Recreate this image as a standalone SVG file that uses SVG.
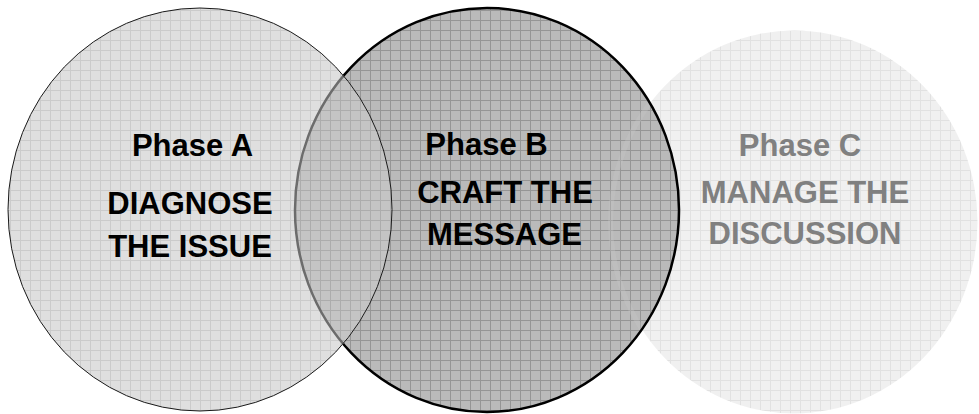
<svg xmlns="http://www.w3.org/2000/svg" width="979" height="414" viewBox="0 0 979 414">
<style>
  .t { font-family: "Liberation Sans", Arial, sans-serif; font-weight: bold; font-size: 31px; text-anchor: middle; }
  .dark { fill: #000000; }
  .light { fill: #808080; }
</style>
<defs>
  <pattern id="gA" width="10" height="10" patternUnits="userSpaceOnUse">
    <rect width="10" height="10" fill="#dfdfdf"/>
    <path d="M0 0.5H10M0.5 0V10" stroke="#cbcbcb" stroke-width="1" fill="none"/>
  </pattern>
  <pattern id="gB" width="10" height="10" patternUnits="userSpaceOnUse">
    <rect width="10" height="10" fill="#bababa"/>
    <path d="M0 0.5H10M0.5 0V10" stroke="#959595" stroke-width="1" fill="none"/>
  </pattern>
  <pattern id="gAB" width="10" height="10" patternUnits="userSpaceOnUse">
    <rect width="10" height="10" fill="#c4c4c4"/>
    <path d="M0 0.5H10M0.5 0V10" stroke="#acacac" stroke-width="1" fill="none"/>
  </pattern>
  <pattern id="gC" width="10" height="10" patternUnits="userSpaceOnUse">
    <rect width="10" height="10" fill="#f0f0f0"/>
    <path d="M0 0.5H10M0.5 0V10" stroke="#e1e1e1" stroke-width="1" fill="none"/>
  </pattern>
  <clipPath id="clipA"><ellipse cx="200" cy="209.5" rx="192" ry="201.5"/></clipPath>
  <clipPath id="clipB"><ellipse cx="487" cy="210" rx="192" ry="202"/></clipPath>
</defs>
<rect width="979" height="414" fill="#ffffff"/>

<g id="circleC">
  <ellipse cx="794" cy="222" rx="183.5" ry="191.5" fill="url(#gC)"/>
</g>

<g id="circleB">
  <ellipse cx="487" cy="210" rx="192" ry="202" fill="url(#gB)"/>
  <g clip-path="url(#clipB)">
    <ellipse cx="794" cy="222" rx="183.5" ry="191.5" fill="none" stroke="#c6c6c6" stroke-opacity="0.35" stroke-width="5"/>
  </g>
  <ellipse cx="487" cy="210" rx="192" ry="202" fill="none" stroke="#000000" stroke-width="2.5"/>
</g>

<g id="circleA">
  <ellipse cx="200" cy="209.5" rx="192" ry="201.5" fill="url(#gA)"/>
  <g clip-path="url(#clipA)">
    <ellipse cx="487" cy="210" rx="192" ry="202" fill="url(#gAB)"/>
    <ellipse cx="487" cy="210" rx="192" ry="202" fill="none" stroke="#6c6c6c" stroke-width="2.5"/>
  </g>
  <ellipse cx="200" cy="209.5" rx="192" ry="201.5" fill="none" stroke="#1a1a1a" stroke-width="1"/>
</g>

<g id="labelA">
  <text class="t dark" x="192.5" y="156">Phase A</text>
  <text class="t dark" x="190" y="214">DIAGNOSE</text>
  <text class="t dark" x="190" y="256.5">THE ISSUE</text>
</g>
<g id="labelB">
  <text class="t dark" x="486.5" y="155">Phase B</text>
  <text class="t dark" x="505" y="203">CRAFT THE</text>
  <text class="t dark" x="504.5" y="245">MESSAGE</text>
</g>
<g id="labelC">
  <text class="t light" x="800" y="156">Phase C</text>
  <text class="t light" x="805" y="203">MANAGE THE</text>
  <text class="t light" x="805" y="244">DISCUSSION</text>
</g>
<g id="connectors"></g>
</svg>
